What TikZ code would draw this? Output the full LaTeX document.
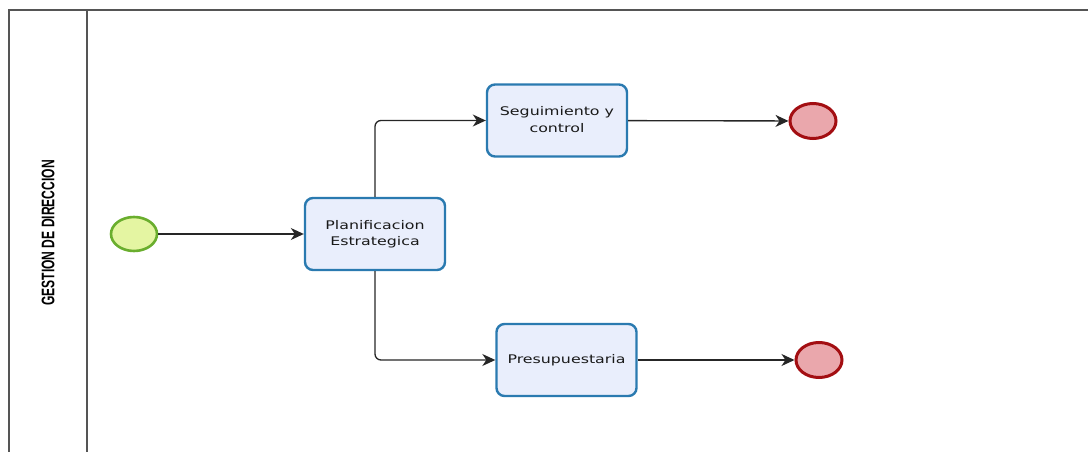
\documentclass[tikz,border=0pt]{standalone}
\usepackage{fontspec}
\setmainfont{DejaVu Sans}
\newfontfamily\lanefont{Liberation Sans}
\usetikzlibrary{arrows.meta,shapes.geometric}
\definecolor{taskfill}{HTML}{E9EEFC}
\definecolor{taskline}{HTML}{2A7AB0}
\definecolor{startfill}{HTML}{E4F5A2}
\definecolor{startline}{HTML}{6AAE2E}
\definecolor{endfill}{HTML}{EAA7AC}
\definecolor{endline}{HTML}{A30E12}
\definecolor{laneline}{HTML}{555555}
% wide, stretched label text for tasks
\newcommand\wide[1]{\scalebox{1.33}[1]{\begin{tabular}{@{}c@{}}#1\end{tabular}}}
\tikzset{
  task/.style={draw=taskline, fill=taskfill, line width=2.4pt, rounded corners=8pt,
    minimum width=140pt, minimum height=72pt, inner sep=0pt,
    font=\fontsize{11.9}{16.5}\selectfont, text=black!90},
  startev/.style={ellipse, draw=startline, fill=startfill, line width=2.6pt,
    minimum width=46pt, minimum height=34pt, inner sep=0pt},
  endev/.style={ellipse, draw=endline, fill=endfill, line width=3pt,
    minimum width=46pt, minimum height=35pt, inner sep=0pt},
  flow/.style={draw=black!85, line width=1.35pt, -{Stealth[length=13pt,width=12pt,inset=4pt]}},
  lane/.style={draw=laneline, line width=1.6pt}
}
\begin{document}
\begin{tikzpicture}[x=1pt,y=-1pt]
\useasboundingbox (0,0) rectangle (1088,452);
% pool and lane header
\draw[lane] (9,452) -- (9,10) -- (1088,10);
\draw[lane] (87,10) -- (87,452);
\node[rotate=90] (lanelabel) at (48,233)
  {\scalebox{0.93}[1.4]{\lanefont\bfseries\fontsize{13}{13}\selectfont GESTION DE DIRECCION}};
% events and tasks
\node[startev] (start) at (134,234) {};
\node[task] (plan) at (375,234) {\wide{Planificacion\\Estrategica}};
\node[task] (seg) at (557,120.5) {\wide{Seguimiento y\\control}};
\node[task] (pres) at (566.5,360) {\wide{Presupuestaria}};
\node[endev] (end1) at (813,121) {};
\node[endev] (end2) at (819,360) {};
% sequence flows
\draw[flow] (start) -- (plan);
\draw[flow, rounded corners=6pt] (plan.north) |- (seg.west);
\draw[flow, rounded corners=6pt] (plan.south) |- (pres.west);
\draw[flow] (seg) -- (end1);
\draw[flow] (pres) -- (end2);
\end{tikzpicture}
\end{document}
